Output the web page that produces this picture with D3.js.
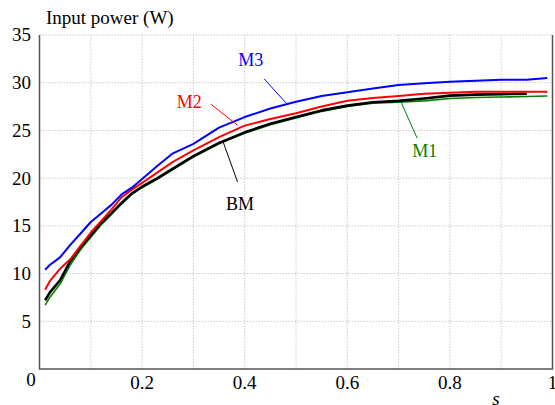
<!DOCTYPE html>
<html>
<head>
<meta charset="utf-8">
<script src="https://cdn.jsdelivr.net/npm/d3@7"></script>
<style>
  body { margin: 0; background: #fff; }
  svg { display: block; font-family: "Liberation Serif", "Times New Roman", serif; }
</style>
</head>
<body>
<div id="chart"></div>
<script>
const width = 555;
const height = 405;
const margin = { top: 35, right: 2.5, bottom: 36, left: 39.5 };

// slip values shared by all curves
const slip = [0.011, 0.02, 0.04, 0.06, 0.08, 0.1, 0.12, 0.14, 0.16, 0.18, 0.2, 0.23, 0.26, 0.3,
  0.35, 0.4, 0.45, 0.5, 0.55, 0.6, 0.65, 0.7, 0.75, 0.8, 0.85, 0.9, 0.95, 0.99];

const powerM1 = [6.7, 7.5, 8.9, 10.9, 12.5, 13.8, 15.1, 16.2, 17.3, 18.3, 19.0, 19.9, 20.9, 22.2,
  23.6, 24.7, 25.6, 26.3, 27.0, 27.5, 27.85, 27.95, 28.1, 28.35, 28.45, 28.5, 28.55, 28.6];
const powerBM = [7.2, 8.0, 9.3, 11.3, 12.8, 14.0, 15.3, 16.3, 17.4, 18.4, 19.1, 20.0, 21.0, 22.3,
  23.7, 24.8, 25.7, 26.4, 27.1, 27.6, 27.95, 28.1, 28.35, 28.65, 28.75, 28.8, 28.85, null];
const powerM2 = [8.3, 9.2, 10.5, 11.5, 12.9, 14.3, 15.5, 16.7, 18.0, 18.8, 19.5, 20.6, 21.7, 22.9,
  24.3, 25.5, 26.2, 26.8, 27.5, 28.1, 28.4, 28.6, 28.85, 28.95, 29.05, 29.05, 29.05, 29.05];
const powerM3 = [10.4, 10.9, 11.7, 13.0, 14.2, 15.4, 16.3, 17.2, 18.3, 19.0, 19.9, 21.3, 22.6, 23.6,
  25.3, 26.4, 27.3, 28.0, 28.6, 29.0, 29.4, 29.75, 29.95, 30.1, 30.2, 30.3, 30.3, 30.5];

const xTicks = [0.2, 0.4, 0.6, 0.8, 1];
const yTicks = [5, 10, 15, 20, 25, 30, 35];

const series = [
  { name: 'M1', values: powerM1, color: '#008000', width: 1.6 },
  { name: 'BM', values: powerBM, color: '#000000', width: 2.6 },
  { name: 'M2', values: powerM2, color: '#ff0000', width: 2 },
  { name: 'M3', values: powerM3, color: '#0000ff', width: 2 }
];

// label position and leader line, in data units
const labels = [
  { name: 'M3', color: '#0000ff', at: [0.412, 31.8], from: [0.438, 30.4], to: [0.481, 27.85] },
  { name: 'M2', color: '#ff0000', at: [0.292, 27.4], from: [0.334, 27.75], to: [0.386, 25.55] },
  { name: 'BM', color: '#000000', at: [0.391, 16.7], from: [0.358, 23.8], to: [0.386, 19.6] },
  { name: 'M1', color: '#008000', at: [0.751, 22.2], from: [0.705, 27.95], to: [0.736, 24.2] }
];

const svg = d3.select('#chart').append('svg')
  .attr('width', width)
  .attr('height', height);

const x = d3.scaleLinear().domain([0, 1]).range([margin.left, width - margin.right]);
const y = d3.scaleLinear().domain([0, 35]).range([height - margin.bottom, margin.top]);

// grid
const grid = svg.append('g')
  .attr('stroke', '#c8c8c8')
  .attr('stroke-width', 1)
  .attr('stroke-dasharray', '1.5,1.5');

grid.selectAll('line.v')
  .data(d3.range(1, 10).map(i => i / 10))
  .enter().append('line')
  .attr('x1', d => x(d)).attr('x2', d => x(d))
  .attr('y1', y(0)).attr('y2', y(35));

grid.selectAll('line.h')
  .data(yTicks)
  .enter().append('line')
  .attr('x1', x(0)).attr('x2', x(1))
  .attr('y1', d => y(d)).attr('y2', d => y(d));

// frame
svg.append('path')
  .attr('d', `M${x(0)},${y(35)}V${y(0)}H${x(1)}V${y(35)}`)
  .attr('fill', 'none')
  .attr('stroke', '#555')
  .attr('stroke-width', 1.5);

// tick labels
svg.append('g').selectAll('text')
  .data(yTicks)
  .enter().append('text')
  .attr('x', 31)
  .attr('y', d => y(d))
  .attr('dy', '0.34em')
  .attr('text-anchor', 'end')
  .style('font-size', '19px')
  .text(d => d);

svg.append('g').selectAll('text')
  .data(xTicks)
  .enter().append('text')
  .attr('x', d => x(d))
  .attr('y', y(0) + 20)
  .attr('text-anchor', 'middle')
  .style('font-size', '19px')
  .text(d => d);

svg.append('text')
  .attr('x', 31)
  .attr('y', y(0) + 17)
  .attr('text-anchor', 'middle')
  .style('font-size', '19px')
  .text('0');

svg.append('text')
  .attr('x', 46)
  .attr('y', 24)
  .style('font-size', '19px')
  .text('Input power (W)');

svg.append('text')
  .attr('x', 496)
  .attr('y', 405)
  .attr('text-anchor', 'middle')
  .style('font-size', '19px')
  .style('font-style', 'italic')
  .text('s');

// curves
const line = d3.line()
  .defined(d => d[1] != null)
  .x(d => x(d[0]))
  .y(d => y(d[1]));

svg.append('g').selectAll('path')
  .data(series)
  .enter().append('path')
  .attr('d', d => line(slip.map((s, i) => [s, d.values[i]])))
  .attr('fill', 'none')
  .attr('stroke', d => d.color)
  .attr('stroke-width', d => d.width)
  .attr('stroke-linejoin', 'round');

// labels with leader lines
const lab = svg.append('g').selectAll('g')
  .data(labels)
  .enter().append('g');

lab.append('line')
  .attr('x1', d => x(d.from[0])).attr('y1', d => y(d.from[1]))
  .attr('x2', d => x(d.to[0])).attr('y2', d => y(d.to[1]))
  .attr('stroke', d => d.color)
  .attr('stroke-width', 1);

lab.append('text')
  .attr('x', d => x(d.at[0]))
  .attr('y', d => y(d.at[1]))
  .attr('text-anchor', 'middle')
  .attr('fill', d => d.color)
  .style('font-size', '18px')
  .text(d => d.name);
</script>
</body>
</html>
